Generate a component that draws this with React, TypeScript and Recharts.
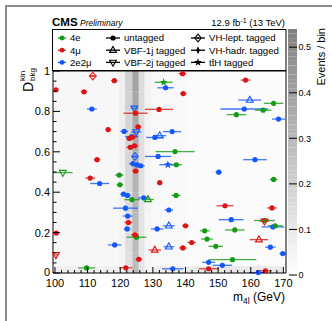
import React from 'react';
import { ScatterChart, Scatter, XAxis, YAxis, ErrorBar, ReferenceArea } from 'recharts';

// [m4l (GeV), D_bkg^kin, half width of m4l error (GeV), category]
type Pt = [number, number, number, string];

const events4e: Pt[] = [
  [102.4, 0.497, 3.0, 'v2'], [119.7, 0.485, 1.3, 'u'], [119.9, 0.437, 1.0, 'u'],
  [123.6, 0.363, 2.4, 'u'], [128.5, 0.364, 1.8, 'v1'], [137.1, 0.384, 1.4, 'u'],
  [125.0, 0.177, 3.0, 'u'], [109.7, 0.025, 2.6, 'u'], [133.3, 0.944, 2.7, 'tt'],
  [136.8, 0.601, 6.0, 'u'], [137.2, 0.536, 1.7, 'u'], [167.0, 0.840, 3.0, 'u'],
  [163.8, 0.806, 2.5, 'u'], [155.6, 0.784, 3.0, 'u'], [167.0, 0.463, 1.2, 'u'],
  [164.2, 0.260, 3.2, 'u'], [167.5, 0.234, 2.3, 'u'], [145.9, 0.209, 1.5, 'u'],
  [155.1, 0.213, 3.0, 'u'], [146.6, 0.168, 1.8, 'u'], [149.3, 0.132, 2.2, 'u'],
  [154.4, 0.066, 7.3, 'u'],
];

const events4mu: Pt[] = [
  [111.6, 0.975, 1.2, 'vl'], [118.2, 0.952, 1.0, 'u'], [100.3, 0.907, 0.8, 'u'],
  [108.9, 0.897, 1.0, 'u'], [116.3, 0.710, 0.8, 'u'], [112.9, 0.561, 1.0, 'u'],
  [110.8, 0.470, 1.5, 'u'], [124.7, 0.505, 1.0, 'u'], [132.1, 0.447, 0.8, 'u'],
  [122.5, 0.250, 1.2, 'u'], [124.5, 0.189, 1.2, 'u'], [100.4, 0.198, 0.7, 'u'],
  [100.3, 0.090, 0.7, 'v2'], [130.6, 0.114, 1.9, 'v1'], [125.7, 0.068, 1.0, 'u'],
  [121.7, 0.026, 2.0, 'u'], [139.1, 0.987, 1.2, 'u'], [139.3, 0.888, 1.0, 'u'],
  [131.9, 0.810, 4.3, 'u'], [124.7, 0.791, 3.7, 'u'], [125.5, 0.724, 1.0, 'u'],
  [123.8, 0.673, 1.2, 'u'], [122.8, 0.666, 1.0, 'u'], [124.4, 0.630, 1.2, 'u'],
  [123.1, 0.622, 1.2, 'u'], [140.0, 0.234, 1.0, 'u'], [141.9, 0.151, 1.3, 'u'],
  [139.2, 0.124, 1.2, 'u'], [158.4, 0.955, 1.5, 'u'], [152.1, 0.333, 2.6, 'u'],
  [166.5, 0.322, 1.5, 'u'], [164.2, 0.256, 1.5, 'v2'], [162.5, 0.165, 2.8, 'v1'],
  [147.1, 0.021, 3.0, 'u'], [164.5, 0.011, 2.0, 'u'],
];

const events2e2mu: Pt[] = [
  [111.3, 0.812, 1.5, 'u'], [113.7, 0.443, 2.9, 'u'], [121.0, 0.390, 1.0, 'u'],
  [122.2, 0.384, 1.0, 'u'], [127.2, 0.372, 1.8, 'u'], [121.6, 0.321, 3.8, 'u'],
  [134.9, 0.312, 1.3, 'u'], [122.3, 0.282, 1.5, 'u'], [122.1, 0.218, 1.0, 'u'],
  [131.3, 0.218, 1.9, 'u'], [118.3, 0.139, 2.1, 'u'], [134.9, 0.234, 1.8, 'v1'],
  [134.9, 0.130, 1.6, 'v1'], [136.1, 0.021, 3.3, 'u'], [133.9, 0.917, 2.5, 'u'],
  [124.3, 0.815, 1.0, 'v2'], [135.9, 0.700, 2.8, 'u'], [121.2, 0.701, 1.2, 'u'],
  [124.9, 0.698, 1.6, 'v2'], [123.5, 0.675, 2.0, 'u'], [130.6, 0.671, 2.7, 'u'],
  [132.1, 0.680, 2.0, 'v1'], [124.5, 0.577, 1.0, 'vl'], [131.6, 0.577, 4.0, 'u'],
  [123.9, 0.541, 1.2, 'u'], [125.2, 0.535, 1.2, 'u'], [126.3, 0.531, 1.2, 'u'],
  [134.6, 0.536, 2.6, 'tt'], [158.0, 0.812, 7.3, 'u'], [159.7, 0.856, 3.5, 'v1'],
  [168.5, 0.762, 2.0, 'u'], [161.3, 0.561, 3.6, 'u'], [150.2, 0.499, 1.0, 'u'],
  [154.0, 0.264, 3.8, 'u'], [166.8, 0.228, 3.5, 'u'], [166.0, 0.128, 1.6, 'u'],
  [169.8, 0.096, 1.0, 'u'], [147.1, 0.053, 2.0, 'u'], [151.3, 0.038, 3.0, 'u'],
  [162.3, 0.002, 2.8, 'u'],
];

// expected events / bin shown as grey background: [m lo, m hi, D lo, D hi, z]
const bgBroad: [number, number, number, number, number][] = [
  [100, 121.5, 0, 1, 0.035],
  [127.5, 140, 0, 1, 0.03],
  [140, 170, 0, 1, 0.015],
  [100, 140, 0, 0.033, 0.07],
  [140, 170, 0, 0.033, 0.1],
];
const peakEdges = [119.7, 121.5, 123.7, 125.7, 127.5, 129.5];
const peakBands = [0, 0.1, 0.2, 0.3, 0.4, 0.5, 0.6, 0.7, 0.8, 0.9, 1];
const peakLevels = [
  [0.05, 0.05, 0.05, 0.06, 0.06, 0.06, 0.07, 0.07, 0.07, 0.07],
  [0.13, 0.14, 0.14, 0.15, 0.16, 0.17, 0.18, 0.18, 0.19, 0.2],
  [0.28, 0.29, 0.3, 0.31, 0.32, 0.33, 0.35, 0.36, 0.37, 0.39],
  [0.11, 0.11, 0.12, 0.12, 0.13, 0.13, 0.14, 0.14, 0.15, 0.15],
  [0.04, 0.04, 0.04, 0.05, 0.05, 0.05, 0.05, 0.05, 0.06, 0.06],
];

const xMajor = [100, 110, 120, 130, 140, 150, 160, 170];
const yMajor = [0, 0.2, 0.4, 0.6, 0.8, 1];
const zTicks = [0, 0.1, 0.2, 0.3, 0.4, 0.5];
const zMax = 0.54;

const channels = [
  { name: '4e', color: '#149a14', pts: events4e },
  { name: '4\u03bc', color: '#dc1414', pts: events4mu },
  { name: '2e2\u03bc', color: '#1457ff', pts: events2e2mu },
];
const categories: [string, string][] = [
  ['u', 'untagged'], ['v1', 'VBF-1j tagged'], ['v2', 'VBF-2j tagged'],
  ['vl', 'VH-lept. tagged'], ['vh', 'VH-hadr. tagged'], ['tt', 't\u0074\u0304H tagged'],
];

const FONT = '"Liberation Sans", Arial, Helvetica, sans-serif';

const xTicks: number[] = [];
for (let v = 100; v <= 170; v += 2) xTicks.push(v);
const yTicks: number[] = [];
for (let i = 0; i <= 20; i++) yTicks.push(+(i * 0.05).toFixed(2));
const zSteps: number[] = [];
for (let i = 0; i < 54; i++) zSteps.push(+(i * 0.01).toFixed(2));

const gray = (z: number) => {
  const g = Math.round(255 - 235 * Math.min(Math.max(z, 0), zMax));
  return `rgb(${g},${g},${g})`;
};

const isMajor = (v: number, list: number[]) => list.some((m) => Math.abs(m - v) < 1e-6);

const Marker = ({ cx, cy, cat, color }: any) => {
  const sw = 1.1;
  switch (cat) {
    case 'v1':
      return <polygon points={`${cx},${cy - 3.8} ${cx + 3.4},${cy + 2.2} ${cx - 3.4},${cy + 2.2}`} fill="none" stroke={color} strokeWidth={sw} />;
    case 'v2':
      return <polygon points={`${cx},${cy + 3.8} ${cx + 3.4},${cy - 2.2} ${cx - 3.4},${cy - 2.2}`} fill="none" stroke={color} strokeWidth={sw} />;
    case 'vl':
      return (
        <g>
          <polygon points={`${cx},${cy - 3.8} ${cx + 3.2},${cy} ${cx},${cy + 3.8} ${cx - 3.2},${cy}`} fill="none" stroke={color} strokeWidth={sw} />
          <circle cx={cx} cy={cy} r={1} fill={color} />
        </g>
      );
    case 'vh':
      return <polygon points={`${cx},${cy - 4} ${cx + 1.8},${cy} ${cx},${cy + 4} ${cx - 1.8},${cy}`} fill={color} />;
    case 'tt': {
      const pts: string[] = [];
      for (let i = 0; i < 10; i++) {
        const r = i % 2 === 0 ? 4.2 : 1.7;
        const a = -Math.PI / 2 + (i * Math.PI) / 5;
        pts.push(`${cx + r * Math.cos(a)},${cy + r * Math.sin(a)}`);
      }
      return <polygon points={pts.join(' ')} fill={color} />;
    }
    default:
      return <circle cx={cx} cy={cy} r={2.6} fill={color} />;
  }
};

const BottomTick = (p: any) => {
  const v = p.payload.value;
  const major = isMajor(v, xMajor);
  return (
    <g>
      <line x1={p.x} x2={p.x} y1={p.y} y2={p.y - (major ? 6 : 3)} stroke="#000" />
      {major && (
        <text x={p.x} y={p.y + 14} textAnchor="middle" fontSize={11} fontFamily={FONT} fill="#000">{v}</text>
      )}
    </g>
  );
};
const TopTick = (p: any) => {
  const major = isMajor(p.payload.value, xMajor);
  return <line x1={p.x} x2={p.x} y1={p.y} y2={p.y + (major ? 6 : 3)} stroke="#000" />;
};
const LeftTick = (p: any) => {
  const v = p.payload.value;
  const major = isMajor(v, yMajor);
  const label = v === 0 ? '0' : v === 1 ? '1' : v.toFixed(1);
  return (
    <g>
      <line x1={p.x} x2={p.x + (major ? 7 : 3.5)} y1={p.y} y2={p.y} stroke="#000" />
      {major && (
        <text x={p.x - 3} y={p.y - (v === 0 ? 1 : 0)} dy="0.36em" textAnchor="end" fontSize={11} fontFamily={FONT} fill="#000">{label}</text>
      )}
    </g>
  );
};
const RightTick = (p: any) => {
  const major = isMajor(p.payload.value, yMajor);
  return <line x1={p.x} x2={p.x - (major ? 7 : 3.5)} y1={p.y} y2={p.y} stroke="#000" />;
};
const ZTick = (p: any) => (
  <g>
    <line x1={p.x - 8} x2={p.x} y1={p.y} y2={p.y} stroke="#000" />
    <text x={p.x + 1.5} y={p.y} dy="0.36em" fontSize={9} fontFamily={FONT} fill="#000">{p.payload.value === 0 ? '0' : p.payload.value.toFixed(1)}</text>
  </g>
);

const toRows = (pts: Pt[]) => pts.map(([m, d, e, c]) => ({ m, d, e, c }));

const axisLine = { stroke: '#000', strokeWidth: 1 };

export default function App() {
  const peakCells: [number, number, number, number, number][] = [];
  peakLevels.forEach((row, i) =>
    row.forEach((z, j) => peakCells.push([peakEdges[i], peakEdges[i + 1], peakBands[j], peakBands[j + 1], z]))
  );
  const bgCells = [...bgBroad, ...peakCells];
  const drawOrder = [channels[2], channels[0], channels[1]];
  const paletteAnchor = [{ x: 0.5, z: 0 }];

  return (
    <div style={{ position: 'absolute', left: 0, top: 0, width: 332, height: 321, background: '#fff' }}>
      <div style={{ position: 'absolute', left: 0, top: 0 }}>
        <ScatterChart width={332} height={321} margin={{ top: 70, right: 45, bottom: 28, left: 23 }}>
          <XAxis xAxisId="b" type="number" dataKey="m" domain={[100, 170]} ticks={xTicks} interval={0}
            height={20} tickSize={0} tickMargin={0} tick={<BottomTick />} axisLine={axisLine} />
          <XAxis xAxisId="t" orientation="top" type="number" dataKey="m" domain={[100, 170]} ticks={xTicks} interval={0}
            height={1} tickSize={0} tickMargin={0} tick={<TopTick />} axisLine={axisLine} />
          <YAxis yAxisId="l" type="number" dataKey="d" domain={[0, 1]} ticks={yTicks} interval={0}
            width={30} tickSize={0} tickMargin={0} tick={<LeftTick />} axisLine={axisLine} />
          <YAxis yAxisId="r" orientation="right" type="number" dataKey="d" domain={[0, 1]} ticks={yTicks} interval={0}
            width={1} tickSize={0} tickMargin={0} tick={<RightTick />} axisLine={axisLine} />
          {bgCells.map(([x1, x2, y1, y2, z], i) => (
            <ReferenceArea key={`bg${i}`} xAxisId="b" yAxisId="l" x1={x1} x2={x2} y1={y1} y2={y2}
              fill={gray(z)} fillOpacity={1} stroke="none" />
          ))}
          {drawOrder.map((ch) => (
            <Scatter key={ch.name} name={ch.name} xAxisId="b" yAxisId="l" data={toRows(ch.pts)}
              isAnimationActive={false}
              shape={(p: any) => <Marker cx={p.cx} cy={p.cy} cat={p.payload.c} color={ch.color} />}>
              <ErrorBar dataKey="e" direction="x" width={0} stroke={ch.color} strokeWidth={1.3} strokeOpacity={0.8} />
            </Scatter>
          ))}
        </ScatterChart>
      </div>

      <div style={{ position: 'absolute', left: 280, top: 0 }}>
        <ScatterChart width={52} height={321} margin={{ top: 29, right: 0, bottom: 46, left: 8 }}>
          <XAxis type="number" dataKey="x" domain={[0, 1]} hide />
          <YAxis type="number" dataKey="z" orientation="right" domain={[0, zMax]} ticks={zTicks} interval={0}
            width={35} tickSize={0} tickMargin={0} tick={<ZTick />} axisLine={false} allowDataOverflow />
          {zSteps.map((z) => (
            <ReferenceArea key={`z${z}`} x1={0} x2={1} y1={z} y2={Math.min(z + 0.01, zMax)}
              fill={gray(z + 0.005)} fillOpacity={1} stroke="none" ifOverflow="visible" />
          ))}
          <Scatter data={paletteAnchor} isAnimationActive={false} shape={() => <g />} />
        </ScatterChart>
      </div>

      <svg width={332} height={321} style={{ position: 'absolute', left: 0, top: 0, pointerEvents: 'none' }} fontFamily={FONT}>
        <line x1={6} x2={6} y1={5} y2={321} stroke="#8c8c8c" strokeWidth={2} />
        <line x1={5} x2={332} y1={6} y2={6} stroke="#8c8c8c" strokeWidth={2} />

        <text x={52} y={26} fontSize={11.5} fontWeight="bold">CMS</text>
        <text x={80} y={26} fontSize={8.5} fontStyle="italic">Preliminary</text>
        <text x={285} y={26} fontSize={9.5} textAnchor="end">
          12.9 fb<tspan dy={-3.5} fontSize={7}>-1</tspan><tspan dy={3.5}> (13 TeV)</tspan>
        </text>

        <rect x={52.5} y={29.5} width={233.5} height={41} fill="#fff" stroke="#000" strokeWidth={1} />
        {channels.map((ch, i) => {
          const y = 38 + i * 12.2;
          return (
            <g key={ch.name}>
              <line x1={58} x2={66} y1={y} y2={y} stroke={ch.color} strokeWidth={1.3} />
              <circle cx={62} cy={y} r={2.4} fill={ch.color} />
              <text x={70} y={y + 3.4} fontSize={9.6}>{ch.name}</text>
            </g>
          );
        })}
        {categories.map(([c, label], i) => {
          const col = Math.floor(i / 3);
          const y = 38 + (i % 3) * 12.2;
          const mx = col === 0 ? 113 : 198;
          return (
            <g key={c}>
              <line x1={mx - 7} x2={mx + 7} y1={y} y2={y} stroke="#000" strokeWidth={1.3} />
              <Marker cx={mx} cy={y} cat={c} color="#000" />
              <text x={mx + 11} y={y + 3.4} fontSize={9.6}>{label}</text>
            </g>
          );
        })}

        <g transform="translate(33, 92) rotate(-90)">
          <text x={0} y={0} fontSize={14}>D</text>
          <text x={11} y={-8.5} fontSize={8}>kin</text>
          <text x={11} y={2} fontSize={8}>bkg</text>
        </g>

        <text x={285} y={301} fontSize={12} textAnchor="end">
          m<tspan dy={3} fontSize={8.5}>4l</tspan><tspan dy={-3}> (GeV)</tspan>
        </text>

        <text transform="translate(325, 28) rotate(-90)" fontSize={11} textAnchor="end">Events / bin</text>
      </svg>
    </div>
  );
}
